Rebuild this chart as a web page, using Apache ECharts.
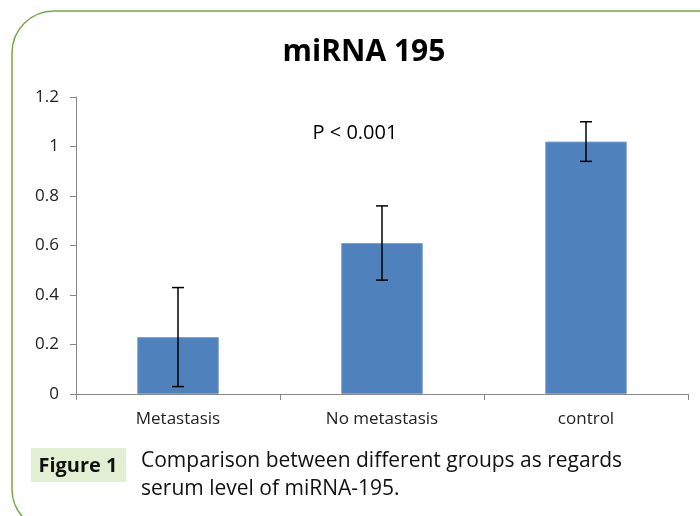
<!DOCTYPE html>
<html>
<head>
<meta charset="utf-8">
<script src="https://cdn.jsdelivr.net/npm/echarts@6/dist/echarts.min.js"></script>
<style>
  html, body { margin: 0; padding: 0; background: #fff; }
  #main { width: 700px; height: 516px; }
</style>
</head>
<body>
<div id="main"></div>
<script>
var categories = ['Metastasis', 'No metastasis', 'control'];
var means = [0.23, 0.61, 1.02];
var errors = [0.20, 0.15, 0.08];
var yTicks = [0, 0.2, 0.4, 0.6, 0.8, 1, 1.2];

var chart = echarts.init(document.getElementById('main'));

var errData = categories.map(function (c, i) {
	return [i, means[i] - errors[i], means[i] + errors[i]];
});

var option = {
	animation: false,
	graphic: [
		{
			// 外框
			type: 'rect',
			shape: { x: 12, y: 11, width: 730, height: 520, r: 42 },
			style: { fill: 'none', stroke: '#77a843', lineWidth: 1.5 },
			z: -1
		},
		{
			type: 'text',
			x: 364,
			y: 52,
			style: { text: 'miRNA 195', font: 'bold 30px "Open Sans", sans-serif', fill: '#000', align: 'center', verticalAlign: 'middle' }
		},
		{
			type: 'text',
			x: 355,
			y: 133,
			style: { text: 'P < 0.001', font: '20px "Open Sans", sans-serif', fill: '#000', align: 'center', verticalAlign: 'middle' }
		},
		{
			type: 'rect',
			shape: { x: 31, y: 448, width: 95, height: 34 },
			style: { fill: '#e3efd3' }
		},
		{
			type: 'text',
			x: 78,
			y: 466,
			style: { text: 'Figure 1', font: 'bold 20px "Open Sans", sans-serif', fill: '#111', align: 'center', verticalAlign: 'middle' }
		},
		{
			type: 'text',
			x: 141,
			y: 475,
			style: {
				text: 'Comparison between different groups as regards\nserum level of miRNA-195.',
				font: '21px "Open Sans", sans-serif',
				lineHeight: 28,
				fill: '#111',
				verticalAlign: 'middle'
			}
		}
	],
	grid: { left: 76, right: 12, top: 97, bottom: 122 },
	xAxis: {
		type: 'category',
		data: categories,
		boundaryGap: true,
		axisLine: { lineStyle: { color: '#868686' } },
		axisTick: { show: true, length: 6, lineStyle: { color: '#868686' } },
		axisLabel: { color: '#222', fontSize: 17, fontFamily: 'Open Sans', margin: 17 }
	},
	yAxis: {
		type: 'value',
		min: 0,
		max: 1.2,
		interval: 0.2,
		splitLine: { show: false },
		axisLine: { show: true, lineStyle: { color: '#868686' } },
		axisTick: { show: true, length: 6, lineStyle: { color: '#868686' } },
		axisLabel: {
			color: '#222', fontSize: 17, fontFamily: 'Open Sans', margin: 17,
			formatter: function (v) {
				var t = yTicks.filter(function (x) { return Math.abs(x - v) < 1e-9; });
				return t.length ? String(t[0]) : '';
			}
		}
	},
	series: [
		{
			type: 'bar',
			data: means,
			barWidth: '40%',
			itemStyle: { color: '#4f81bd', borderColor: '#7fa3d1', borderWidth: 1 }
		},
		{
			type: 'custom',
			data: errData,
			z: 10,
			renderItem: function (params, api) {
				var lo = api.coord([api.value(0), api.value(1)]);
				var hi = api.coord([api.value(0), api.value(2)]);
				var w = 6;
				var st = { stroke: '#000', lineWidth: 1.5 };
				return {
					type: 'group',
					children: [
						{ type: 'line', shape: { x1: hi[0], y1: hi[1], x2: lo[0], y2: lo[1] }, style: st },
						{ type: 'line', shape: { x1: hi[0] - w, y1: hi[1], x2: hi[0] + w, y2: hi[1] }, style: st },
						{ type: 'line', shape: { x1: lo[0] - w, y1: lo[1], x2: lo[0] + w, y2: lo[1] }, style: st }
					]
				};
			}
		}
	]
};
chart.setOption(option);
</script>
</body>
</html>
